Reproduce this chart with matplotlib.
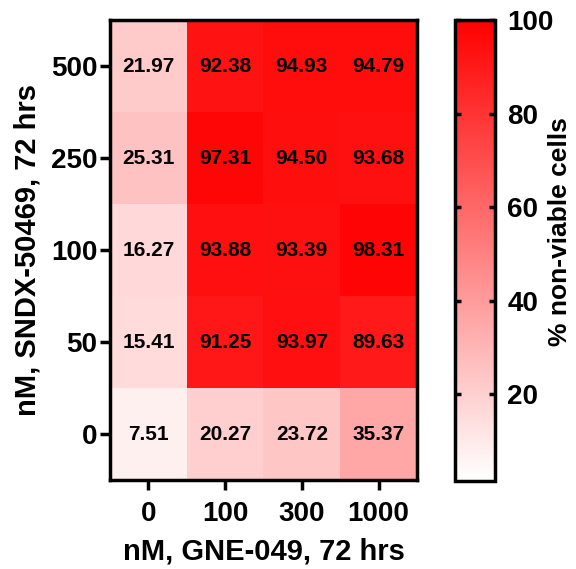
import numpy as np
import matplotlib
matplotlib.use("Agg")
import matplotlib.pyplot as plt
from matplotlib.colors import LinearSegmentedColormap

plt.rcParams["font.family"] = ["Liberation Sans", "DejaVu Sans"]
plt.rcParams["font.weight"] = "bold"

gne_doses = ["0", "100", "300", "1000"]
sndx_doses = ["500", "250", "100", "50", "0"]

# rows top to bottom: SNDX 500, 250, 100, 50, 0
values = np.array([
    [21.97, 92.38, 94.93, 94.79],
    [25.31, 97.31, 94.50, 93.68],
    [16.27, 93.88, 93.39, 98.31],
    [15.41, 91.25, 93.97, 89.63],
    [7.51, 20.27, 23.72, 35.37],
])

cmap = LinearSegmentedColormap.from_list("wr", ["#ffffff", "#ff0000"])

fig = plt.figure(figsize=(5.76, 5.69), dpi=100)
ax = fig.add_axes([110 / 576, 1 - 480 / 569, 307 / 576, 460 / 569])
cax = fig.add_axes([455 / 576, 1 - 481 / 569, 40 / 576, 461 / 569])

im = ax.imshow(values, cmap=cmap, vmin=1.5, vmax=100, aspect="auto")

for i in range(values.shape[0]):
    for j in range(values.shape[1]):
        ax.text(j, i, f"{values[i, j]:.2f}", ha="center", va="center",
                fontsize=15, fontweight="bold", color="black")

ax.set_xticks(range(len(gne_doses)))
ax.set_xticklabels(gne_doses, fontsize=20, fontweight="bold")
ax.set_yticks(range(len(sndx_doses)))
ax.set_yticklabels(sndx_doses, fontsize=20, fontweight="bold")
ax.tick_params(width=2.5, length=7, pad=2)
ax.tick_params(axis="x", pad=8)
for s in ax.spines.values():
    s.set_linewidth(2.5)

ax.set_xlabel("nM, GNE-049, 72 hrs", fontsize=21, fontweight="bold", labelpad=8)
ax.set_ylabel("nM, SNDX-50469, 72 hrs", fontsize=21, fontweight="bold", labelpad=7)

cb = fig.colorbar(im, cax=cax)
cb.set_ticks([20, 40, 60, 80, 100])
cb.ax.tick_params(labelsize=20, width=2.5, length=4.5, direction="in",
                  left=True, right=True, pad=9)
for lab in cb.ax.get_yticklabels():
    lab.set_fontweight("bold")
cb.outline.set_linewidth(2.5)
cb.set_label("% non-viable cells", fontsize=19, fontweight="bold")
cb.ax.yaxis.set_label_coords(2.33, 0.542)

fig.savefig("out.png", dpi=100)
